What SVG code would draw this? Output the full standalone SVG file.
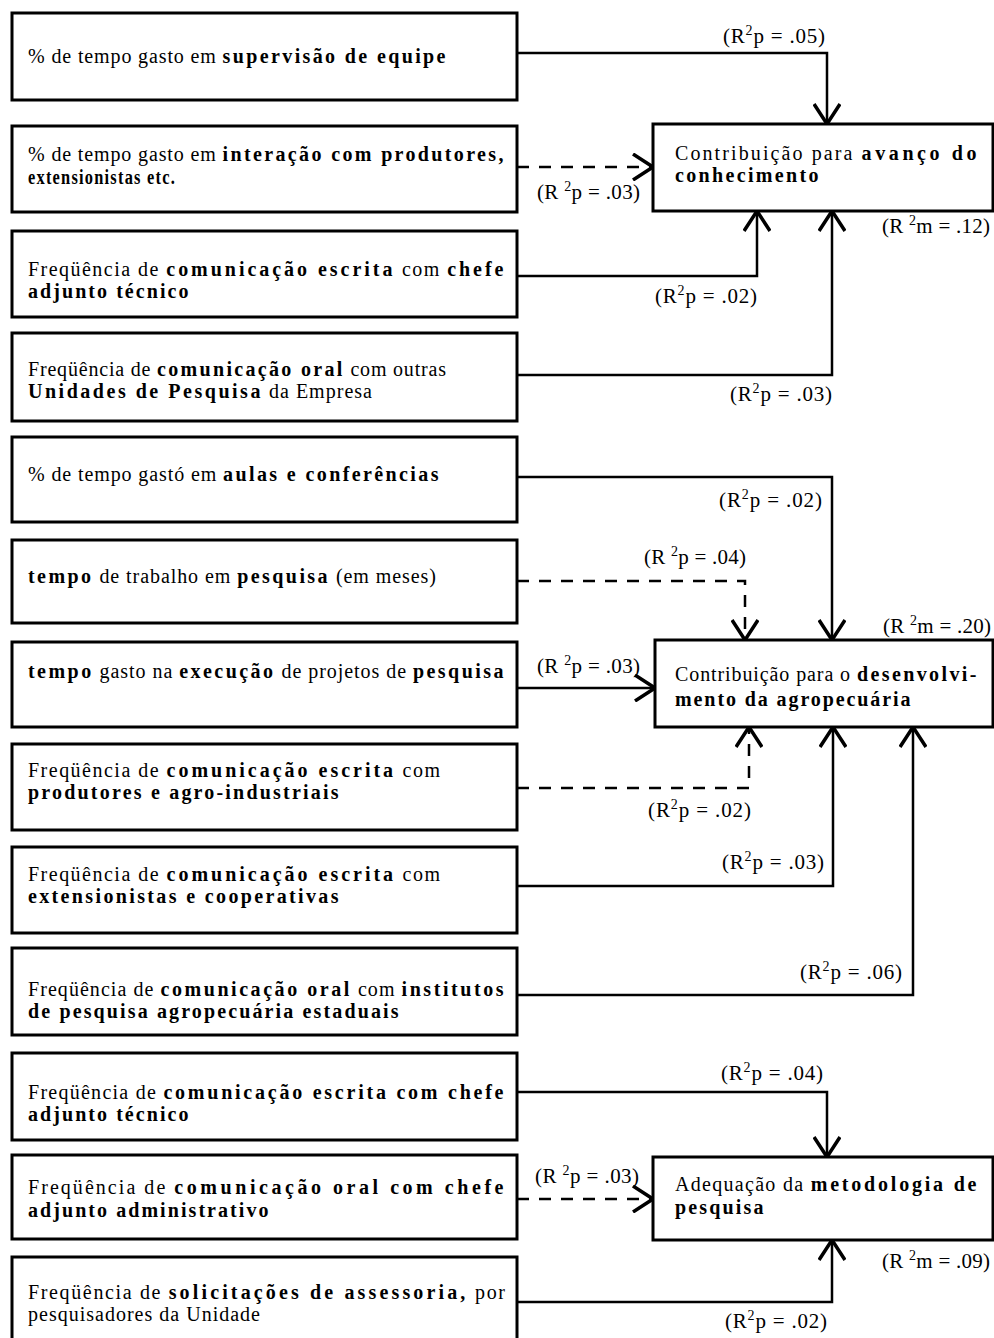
<svg xmlns="http://www.w3.org/2000/svg" width="994" height="1338" viewBox="0 0 994 1338">
<style>
.box{fill:#fff;stroke:#000;stroke-width:3}
.t{font-family:"Liberation Serif","Times New Roman",serif;font-size:20px;fill:#000}
.b{font-weight:bold;letter-spacing:1.5px}
.l{font-family:"Liberation Serif","Times New Roman",serif;font-size:21px;fill:#000}
.c{fill:none;stroke:#000;stroke-width:2.5;marker-end:url(#ah)}
.d{stroke-dasharray:12 10}
.s{font-size:14px}
</style>
<defs>
<marker id="ah" markerUnits="userSpaceOnUse" viewBox="0 0 22 28" markerWidth="22" markerHeight="28" refX="21" refY="14" orient="auto">
<path d="M1,1 L21,14 L1,27" fill="none" stroke="#000" stroke-width="3.5" stroke-dasharray="none"/>
</marker>
</defs>
<rect width="994" height="1338" fill="#fff"/>

<g id="connectors">
<path class="c" d="M517,53 H827 V124"/>
<path class="c d" d="M517,167 H653"/>
<path class="c" d="M517,276 H757 V211"/>
<path class="c" d="M517,375 H832 V211"/>
<path class="c" d="M517,477 H832 V640"/>
<path class="c d" d="M517,581 H745 V640"/>
<path class="c" d="M517,688 H655"/>
<path class="c d" d="M517,788 H749 V727"/>
<path class="c" d="M517,886 H833 V727"/>
<path class="c" d="M517,995 H913 V727"/>
<path class="c" d="M517,1092 H827 V1157"/>
<path class="c d" d="M517,1199 H653"/>
<path class="c" d="M517,1302 H832 V1240"/>
</g>

<g id="labels" class="l">
<text x="723" y="43" textLength="102">(R<tspan class="s" dy="-8">2</tspan><tspan dy="8">p = .05)</tspan></text>
<text x="537" y="199" textLength="103">(R <tspan class="s" dy="-8">2</tspan><tspan dy="8">p = .03)</tspan></text>
<text x="655" y="303" textLength="102">(R<tspan class="s" dy="-8">2</tspan><tspan dy="8">p = .02)</tspan></text>
<text x="730" y="401" textLength="102">(R<tspan class="s" dy="-8">2</tspan><tspan dy="8">p = .03)</tspan></text>
<text x="882" y="233" textLength="108">(R <tspan class="s" dy="-8">2</tspan><tspan dy="8">m = .12)</tspan></text>
<text x="719" y="507" textLength="103">(R<tspan class="s" dy="-8">2</tspan><tspan dy="8">p = .02)</tspan></text>
<text x="644" y="564" textLength="102">(R <tspan class="s" dy="-8">2</tspan><tspan dy="8">p = .04)</tspan></text>
<text x="883" y="633" textLength="108">(R <tspan class="s" dy="-8">2</tspan><tspan dy="8">m = .20)</tspan></text>
<text x="537" y="673" textLength="103">(R <tspan class="s" dy="-8">2</tspan><tspan dy="8">p = .03)</tspan></text>
<text x="648" y="817" textLength="103">(R<tspan class="s" dy="-8">2</tspan><tspan dy="8">p = .02)</tspan></text>
<text x="722" y="869" textLength="102">(R<tspan class="s" dy="-8">2</tspan><tspan dy="8">p = .03)</tspan></text>
<text x="800" y="979" textLength="102">(R<tspan class="s" dy="-8">2</tspan><tspan dy="8">p = .06)</tspan></text>
<text x="721" y="1080" textLength="102">(R<tspan class="s" dy="-8">2</tspan><tspan dy="8">p = .04)</tspan></text>
<text x="535" y="1183" textLength="104">(R <tspan class="s" dy="-8">2</tspan><tspan dy="8">p = .03)</tspan></text>
<text x="882" y="1268" textLength="108">(R <tspan class="s" dy="-8">2</tspan><tspan dy="8">m = .09)</tspan></text>
<text x="725" y="1328" textLength="102">(R<tspan class="s" dy="-8">2</tspan><tspan dy="8">p = .02)</tspan></text>
</g>

<g id="n1">
<rect class="box" x="12" y="13" width="505" height="87"/>
<text class="t" x="28" y="63" textLength="419">% de tempo gasto em <tspan class="b">supervisão de equipe</tspan></text>
</g>
<g id="n2">
<rect class="box" x="12" y="126" width="505" height="86"/>
<text class="t" x="28" y="161" textLength="477">% de tempo gasto em <tspan class="b">interação com produtores,</tspan></text>
<text class="t b" x="28" y="184" textLength="148" lengthAdjust="spacingAndGlyphs">extensionistas etc.</text>
</g>
<g id="n3">
<rect class="box" x="12" y="231" width="505" height="86"/>
<text class="t" x="28" y="276" textLength="477">Freqüência de <tspan class="b">comunicação escrita</tspan> com <tspan class="b">chefe</tspan></text>
<text class="t b" x="28" y="298" textLength="162">adjunto técnico</text>
</g>
<g id="n4">
<rect class="box" x="12" y="333" width="505" height="88"/>
<text class="t" x="28" y="376" textLength="418">Freqüência de <tspan class="b">comunicação oral</tspan> com outras</text>
<text class="t" x="28" y="398" textLength="344"><tspan class="b">Unidades de Pesquisa</tspan> da Empresa</text>
</g>
<g id="n5">
<rect class="box" x="12" y="437" width="505" height="85"/>
<text class="t" x="28" y="481" textLength="412">% de tempo gastó em <tspan class="b">aulas e conferências</tspan></text>
</g>
<g id="n6">
<rect class="box" x="12" y="540" width="505" height="83"/>
<text class="t" x="28" y="583" textLength="408"><tspan class="b">tempo</tspan> de trabalho em <tspan class="b">pesquisa</tspan> (em meses)</text>
</g>
<g id="n7">
<rect class="box" x="12" y="642" width="505" height="85"/>
<text class="t" x="28" y="678" textLength="477"><tspan class="b">tempo</tspan> gasto na <tspan class="b">execução</tspan> de projetos de <tspan class="b">pesquisa</tspan></text>
</g>
<g id="n8">
<rect class="box" x="12" y="744" width="505" height="86"/>
<text class="t" x="28" y="777" textLength="412">Freqüência de <tspan class="b">comunicação escrita</tspan> com</text>
<text class="t b" x="28" y="799" textLength="312">produtores e agro-industriais</text>
</g>
<g id="n9">
<rect class="box" x="12" y="847" width="505" height="86"/>
<text class="t" x="28" y="881" textLength="412">Freqüência de <tspan class="b">comunicação escrita</tspan> com</text>
<text class="t b" x="28" y="903" textLength="312">extensionistas e cooperativas</text>
</g>
<g id="n10">
<rect class="box" x="12" y="948" width="505" height="87"/>
<text class="t" x="28" y="996" textLength="477">Freqüência de <tspan class="b">comunicação oral</tspan> com <tspan class="b">institutos</tspan></text>
<text class="t b" x="28" y="1018" textLength="372">de pesquisa agropecuária estaduais</text>
</g>
<g id="n11">
<rect class="box" x="12" y="1053" width="505" height="87"/>
<text class="t" x="28" y="1099" textLength="477">Freqüência de <tspan class="b">comunicação escrita com chefe</tspan></text>
<text class="t b" x="28" y="1121" textLength="162">adjunto técnico</text>
</g>
<g id="n12">
<rect class="box" x="12" y="1155" width="505" height="84"/>
<text class="t" x="28" y="1194" textLength="477">Freqüência de <tspan class="b">comunicação oral com chefe</tspan></text>
<text class="t b" x="28" y="1217" textLength="242">adjunto administrativo</text>
</g>
<g id="n13">
<rect class="box" x="12" y="1257" width="505" height="100"/>
<text class="t" x="28" y="1299" textLength="477">Freqüência de <tspan class="b">solicitações de assessoria,</tspan> por</text>
<text class="t" x="28" y="1321" textLength="232">pesquisadores da Unidade</text>
</g>

<g id="tA">
<rect class="box" x="653" y="124" width="340" height="87"/>
<text class="t" x="675" y="160" textLength="303">Contribuição para <tspan class="b">avanço do</tspan></text>
<text class="t b" x="675" y="182" textLength="145">conhecimento</text>
</g>
<g id="tB">
<rect class="box" x="655" y="640" width="338" height="87"/>
<text class="t" x="675" y="681" textLength="303">Contribuição para o <tspan class="b">desenvolvi-</tspan></text>
<text class="t b" x="675" y="706" textLength="237">mento da agropecuária</text>
</g>
<g id="tC">
<rect class="box" x="653" y="1157" width="340" height="83"/>
<text class="t" x="675" y="1191" textLength="303">Adequação da <tspan class="b">metodologia de</tspan></text>
<text class="t b" x="675" y="1214" textLength="90">pesquisa</text>
</g>
</svg>
